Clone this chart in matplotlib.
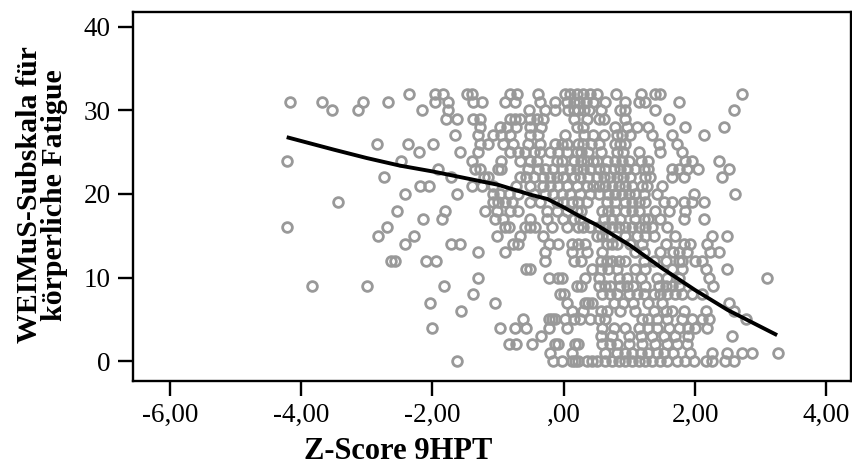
import matplotlib
matplotlib.use("Agg")
import matplotlib.pyplot as plt
from matplotlib.ticker import FuncFormatter

# fatigue score (rows) -> z-scores of the 9HPT observed at that score
rows = {
    32: [-2.36, -1.96, -1.84, -1.48, -1.40, -0.82, -0.71, -0.39, 0.02, 0.10, 0.20, 0.30,
         0.40, 0.51, 0.79, 1.17, 1.39, 1.47, 2.72],
    31: [-4.17, -3.68, -3.06, -2.68, -1.96, -1.76, -1.38, -1.24, -0.89, -0.74, -0.36, -0.13,
         0.05, 0.15, 0.24, 0.34, 0.45, 0.63, 0.94, 1.14, 1.24, 1.75],
    30: [-3.53, -3.13, -2.16, -1.77, -0.53, -0.29, -0.13, 0.06, 0.15, 0.22, 0.31, 0.39,
         0.56, 0.86, 0.94, 1.39, 2.59],
    29: [-1.79, -1.63, -1.38, -1.28, -0.82, -0.74, -0.67, -0.52, -0.41, -0.31, 0.15, 0.35,
         0.53, 0.61, 0.94, 1.60],
    28: [-1.28, -0.97, -0.87, -0.72, -0.52, -0.34, 0.20, 0.30, 0.78, 0.96, 1.11, 1.29,
         1.85, 2.44],
    27: [-1.66, -1.30, -1.07, -0.95, -0.82, -0.52, -0.39, 0.02, 0.31, 0.45, 0.61, 0.81,
         0.89, 1.01, 1.34, 1.65, 2.13],
    26: [-2.84, -2.37, -1.99, -1.28, -1.15, -0.92, -0.77, -0.54, -0.36, -0.13, -0.03, 0.05,
         0.22, 0.30, 0.42, 0.53, 0.78, 0.86, 0.94, 1.45, 1.72],
    25: [-2.20, -1.58, -1.30, -0.82, -0.69, -0.59, -0.46, -0.36, -0.21, -0.08, 0.05, 0.20,
         0.27, 0.37, 0.56, 0.81, 0.91, 1.14, 1.47, 1.80],
    24: [-4.22, -2.48, -1.40, -0.95, -0.67, -0.52, -0.41, -0.11, -0.03, 0.15, 0.27, 0.35,
         0.45, 0.50, 0.66, 0.78, 0.89, 0.99, 1.17, 1.29, 1.85, 1.95, 2.36],
    23: [-1.91, -1.35, -1.28, -1.00, -0.95, -0.54, -0.39, -0.28, -0.16, -0.03, 0.10, 0.20,
         0.30, 0.40, 0.53, 0.63, 0.76, 0.86, 0.96, 1.09, 1.22, 1.29, 1.65, 1.75, 1.88,
         2.05, 2.51],
    22: [-2.74, -1.71, -1.22, -1.15, -0.67, -0.57, -0.46, -0.31, -0.21, -0.11, -0.01, 0.15,
         0.25, 0.37, 0.50, 0.61, 0.71, 0.81, 0.91, 1.01, 1.24, 1.32, 1.65, 1.83, 2.41],
    21: [-2.19, -2.05, -1.40, -1.25, -1.07, -0.72, -0.52, -0.31, -0.21, -0.08, 0.05, 0.20,
         0.35, 0.45, 0.53, 0.63, 0.73, 0.84, 0.94, 1.04, 1.19, 1.27, 1.50],
    20: [-2.42, -1.63, -1.07, -0.97, -0.84, -0.69, -0.46, -0.29, -0.16, -0.03, 0.10, 0.25,
         0.40, 0.53, 0.68, 0.78, 0.89, 0.99, 1.09, 1.22, 1.42, 1.98, 2.61],
    19: [-3.44, -1.07, -1.00, -0.90, -0.79, -0.52, -0.36, -0.11, -0.01, 0.12, 0.22, 0.35,
         0.66, 0.78, 0.94, 1.04, 1.14, 1.24, 1.52, 1.65, 1.83, 1.95, 2.13],
    18: [-2.54, -1.81, -1.20, -1.02, -0.82, -0.69, -0.26, -0.11, 0.05, 0.20, 0.27, 0.58,
         0.68, 0.78, 0.94, 1.04, 1.14, 1.39, 1.60, 1.85],
    17: [-2.14, -1.86, -1.05, -0.92, -0.52, -0.26, -0.01, 0.15, 0.25, 0.61, 0.73, 0.86,
         1.09, 1.22, 1.29, 1.47, 1.83, 2.13],
    16: [-4.22, -2.69, -0.89, -0.84, -0.59, -0.52, -0.44, -0.18, 0.05, 0.22, 0.30, 0.40,
         0.53, 0.63, 0.73, 0.84, 0.94, 1.04, 1.14, 1.24, 1.34, 1.57],
    15: [-2.83, -2.28, -1.02, -0.67, -0.31, 0.50, 0.58, 0.68, 0.94, 1.11, 1.24, 1.37,
         1.70, 2.26, 2.49],
    14: [-2.42, -1.71, -1.58, -0.77, -0.69, -0.23, -0.08, 0.12, 0.22, 0.33, 0.66, 0.73,
         0.81, 1.01, 1.19, 1.55, 1.83, 1.93, 2.18],
    13: [-1.30, -0.89, -0.28, 0.12, 0.35, 0.58, 1.09, 1.22, 1.47, 1.67, 1.75, 1.88, 2.23,
         2.36],
    12: [-2.63, -2.57, -2.10, -1.94, -0.28, 0.15, 0.27, 0.56, 0.66, 0.73, 0.84, 0.94,
         1.22, 1.37, 1.55, 1.75, 1.80, 2.00, 2.11],
    11: [-0.57, -0.51, 0.43, 0.56, 0.68, 0.81, 1.09, 1.24, 1.65, 1.80, 2.16, 2.49],
    10: [-1.30, -0.23, -0.08, -0.03, 0.33, 0.53, 0.84, 0.96, 1.17, 1.42, 1.57, 1.75,
         2.21, 3.10],
    9: [-3.83, -3.00, -1.83, 0.20, 0.27, 0.53, 0.63, 0.71, 0.86, 0.96, 1.06, 1.24, 1.45,
        1.55, 1.65, 1.75, 2.28],
    8: [-1.38, -0.06, 0.00, 0.58, 0.71, 0.81, 0.99, 1.11, 1.22, 1.37, 1.47, 1.57, 1.70,
        1.80, 1.95, 2.11],
    7: [-2.04, -1.05, 0.05, 0.33, 0.37, 0.43, 0.76, 0.91, 1.06, 1.29, 1.50, 2.51],
    6: [-1.56, 0.12, 0.30, 0.56, 0.66, 0.86, 1.09, 1.37, 1.55, 1.65, 1.83, 2.16, 2.59],
    5: [-0.62, -0.23, -0.18, -0.13, 0.02, 0.15, 0.25, 0.40, 0.53, 0.63, 1.19, 1.29, 1.42,
        1.57, 1.80, 1.95, 2.11, 2.21, 2.77],
    4: [-2.01, -0.97, -0.74, -0.57, -0.23, 0.05, 0.58, 0.76, 0.94, 1.14, 1.29, 1.42, 1.60,
        1.75, 1.90, 2.00, 2.18],
    3: [-0.34, 0.56, 0.73, 0.99, 1.17, 1.34, 1.52, 1.70, 1.90, 2.56],
    2: [-0.84, -0.72, -0.49, -0.13, -0.08, 0.17, 0.22, 0.58, 0.71, 0.81, 0.99, 1.19, 1.39,
        1.57, 1.72, 1.88],
    1: [-0.21, 0.12, 0.63, 0.81, 0.94, 1.04, 1.17, 1.29, 1.42, 1.52, 1.67, 1.93, 2.26,
        2.49, 2.72, 2.87, 3.27],
    0: [-1.63, -0.16, -0.03, 0.12, 0.17, 0.22, 0.35, 0.43, 0.50, 0.63, 0.73, 0.84, 0.94,
        1.04, 1.14, 1.24, 1.34, 1.47, 1.57, 1.72, 1.85, 1.98, 2.16, 2.26, 2.46, 2.59],
}

# smoothed fit (loess) through the cloud
fit_x = [-4.22, -3.5, -3.0, -2.5, -2.0, -1.5, -1.0, -0.5, -0.25, 0.0, 0.25, 0.5,
         1.0, 1.5, 2.0, 2.5, 3.0, 3.25]
fit_y = [26.8, 25.3, 24.3, 23.4, 22.7, 21.9, 21.1, 19.9, 19.4, 18.4, 17.3, 16.3,
         13.9, 11.1, 8.5, 6.1, 4.1, 3.1]

xticks = [-6, -4, -2, 0, 2, 4]
yticks = [0, 10, 20, 30, 40]

xs, ys = [], []
for score, zs in rows.items():
    xs += zs
    ys += [score] * len(zs)

plt.rcParams['font.family'] = 'Liberation Serif'

fig = plt.figure(figsize=(8.53, 4.74), dpi=100)
ax = fig.add_axes([0.156, 0.196, 0.842, 0.779])

ax.plot(xs, ys, 'o', ms=7.0, mfc='none', mec='#999999', mew=2.0, zorder=2)
ax.plot(fit_x, fit_y, color='black', lw=2.8, solid_capstyle='butt', zorder=3)

ax.set_xlim(-6.56, 4.38)
ax.set_ylim(-2.4, 41.8)
ax.set_xticks(xticks)
ax.set_yticks(yticks)


def spss_fmt(v, pos):
    s = '%.2f' % v
    s = s.replace('.', ',')
    if s.startswith('0,'):
        s = s[1:]
    return s


ax.xaxis.set_major_formatter(FuncFormatter(spss_fmt))
ax.tick_params(direction='out', length=11, width=1.7, labelsize=19.5, pad=5)

for sp in ax.spines.values():
    sp.set_linewidth(1.7)

ax.set_xlabel('Z-Score 9HPT', fontsize=22, fontweight='bold')
ax.xaxis.set_label_coords(0.369, -0.192)
ax.xaxis.label.set_va('center')
ax.set_ylabel('WEIMuS-Subskala für\nkörperliche Fatigue', fontsize=21.5,
              fontweight='bold', linespacing=0.9)
ax.yaxis.set_label_coords(-0.127, 0.504)
ax.yaxis.label.set_va('center')

fig.savefig('out.png', dpi=100)
